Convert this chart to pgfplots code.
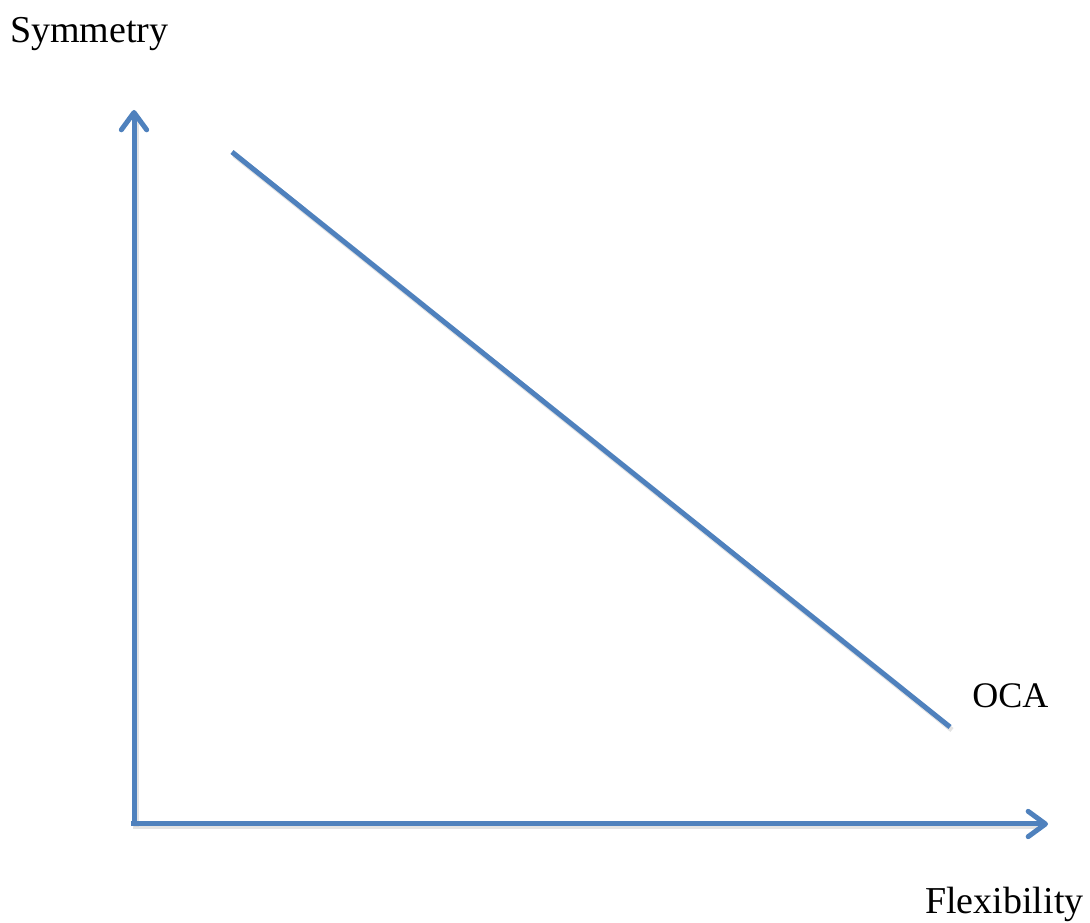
\documentclass[border=0pt]{standalone}
\usepackage{pgfplots}
\pgfplotsset{compat=1.18}
\usepackage{fontspec}
\setmainfont{Liberation Serif}
\usetikzlibrary{arrows.meta}
\definecolor{officeblue}{HTML}{4F81BD}
\begin{document}
\begin{tikzpicture}
\begin{axis}[
  scale only axis, width=817.5pt, height=691.5pt,
  xmin=0, xmax=1090, ymin=0, ymax=922,
  axis lines=none, clip=false,
]
\path (axis cs:0,0) rectangle (axis cs:1090,922);
% shadows
\addplot[black!18, line width=3.75pt, opacity=0.6, forget plot] coordinates {(136,95) (136,806)};
\addplot[black!18, line width=3.75pt, opacity=0.6, forget plot] coordinates {(133,95) (1042,95)};
\addplot[black!18, line width=3.75pt, opacity=0.6, forget plot] coordinates {(234,767) (952,192)};
% axes
\addplot[officeblue, line width=3.75pt, -{Straight Barb[length=13pt, width=19pt, line width=0pt 1, round]}] coordinates {(134,96) (134,812)};
\addplot[officeblue, line width=3.75pt, -{Straight Barb[length=13pt, width=19pt, line width=0pt 1, round]}] coordinates {(131,98) (1048,98)};
% OCA line
\addplot[officeblue, line width=3.75pt] coordinates {(232,770) (950,195)};
\node[anchor=base west, font=\fontsize{28.5}{32}\selectfont, inner sep=0pt] at (axis cs:10,879) {Symmetry};
\node[anchor=base west, font=\fontsize{27}{32}\selectfont, inner sep=0pt] at (axis cs:972,214) {OCA};
\node[anchor=base west, font=\fontsize{28.5}{32}\selectfont, inner sep=0pt] at (axis cs:925,8) {Flexibility};
\end{axis}
\end{tikzpicture}
\end{document}
